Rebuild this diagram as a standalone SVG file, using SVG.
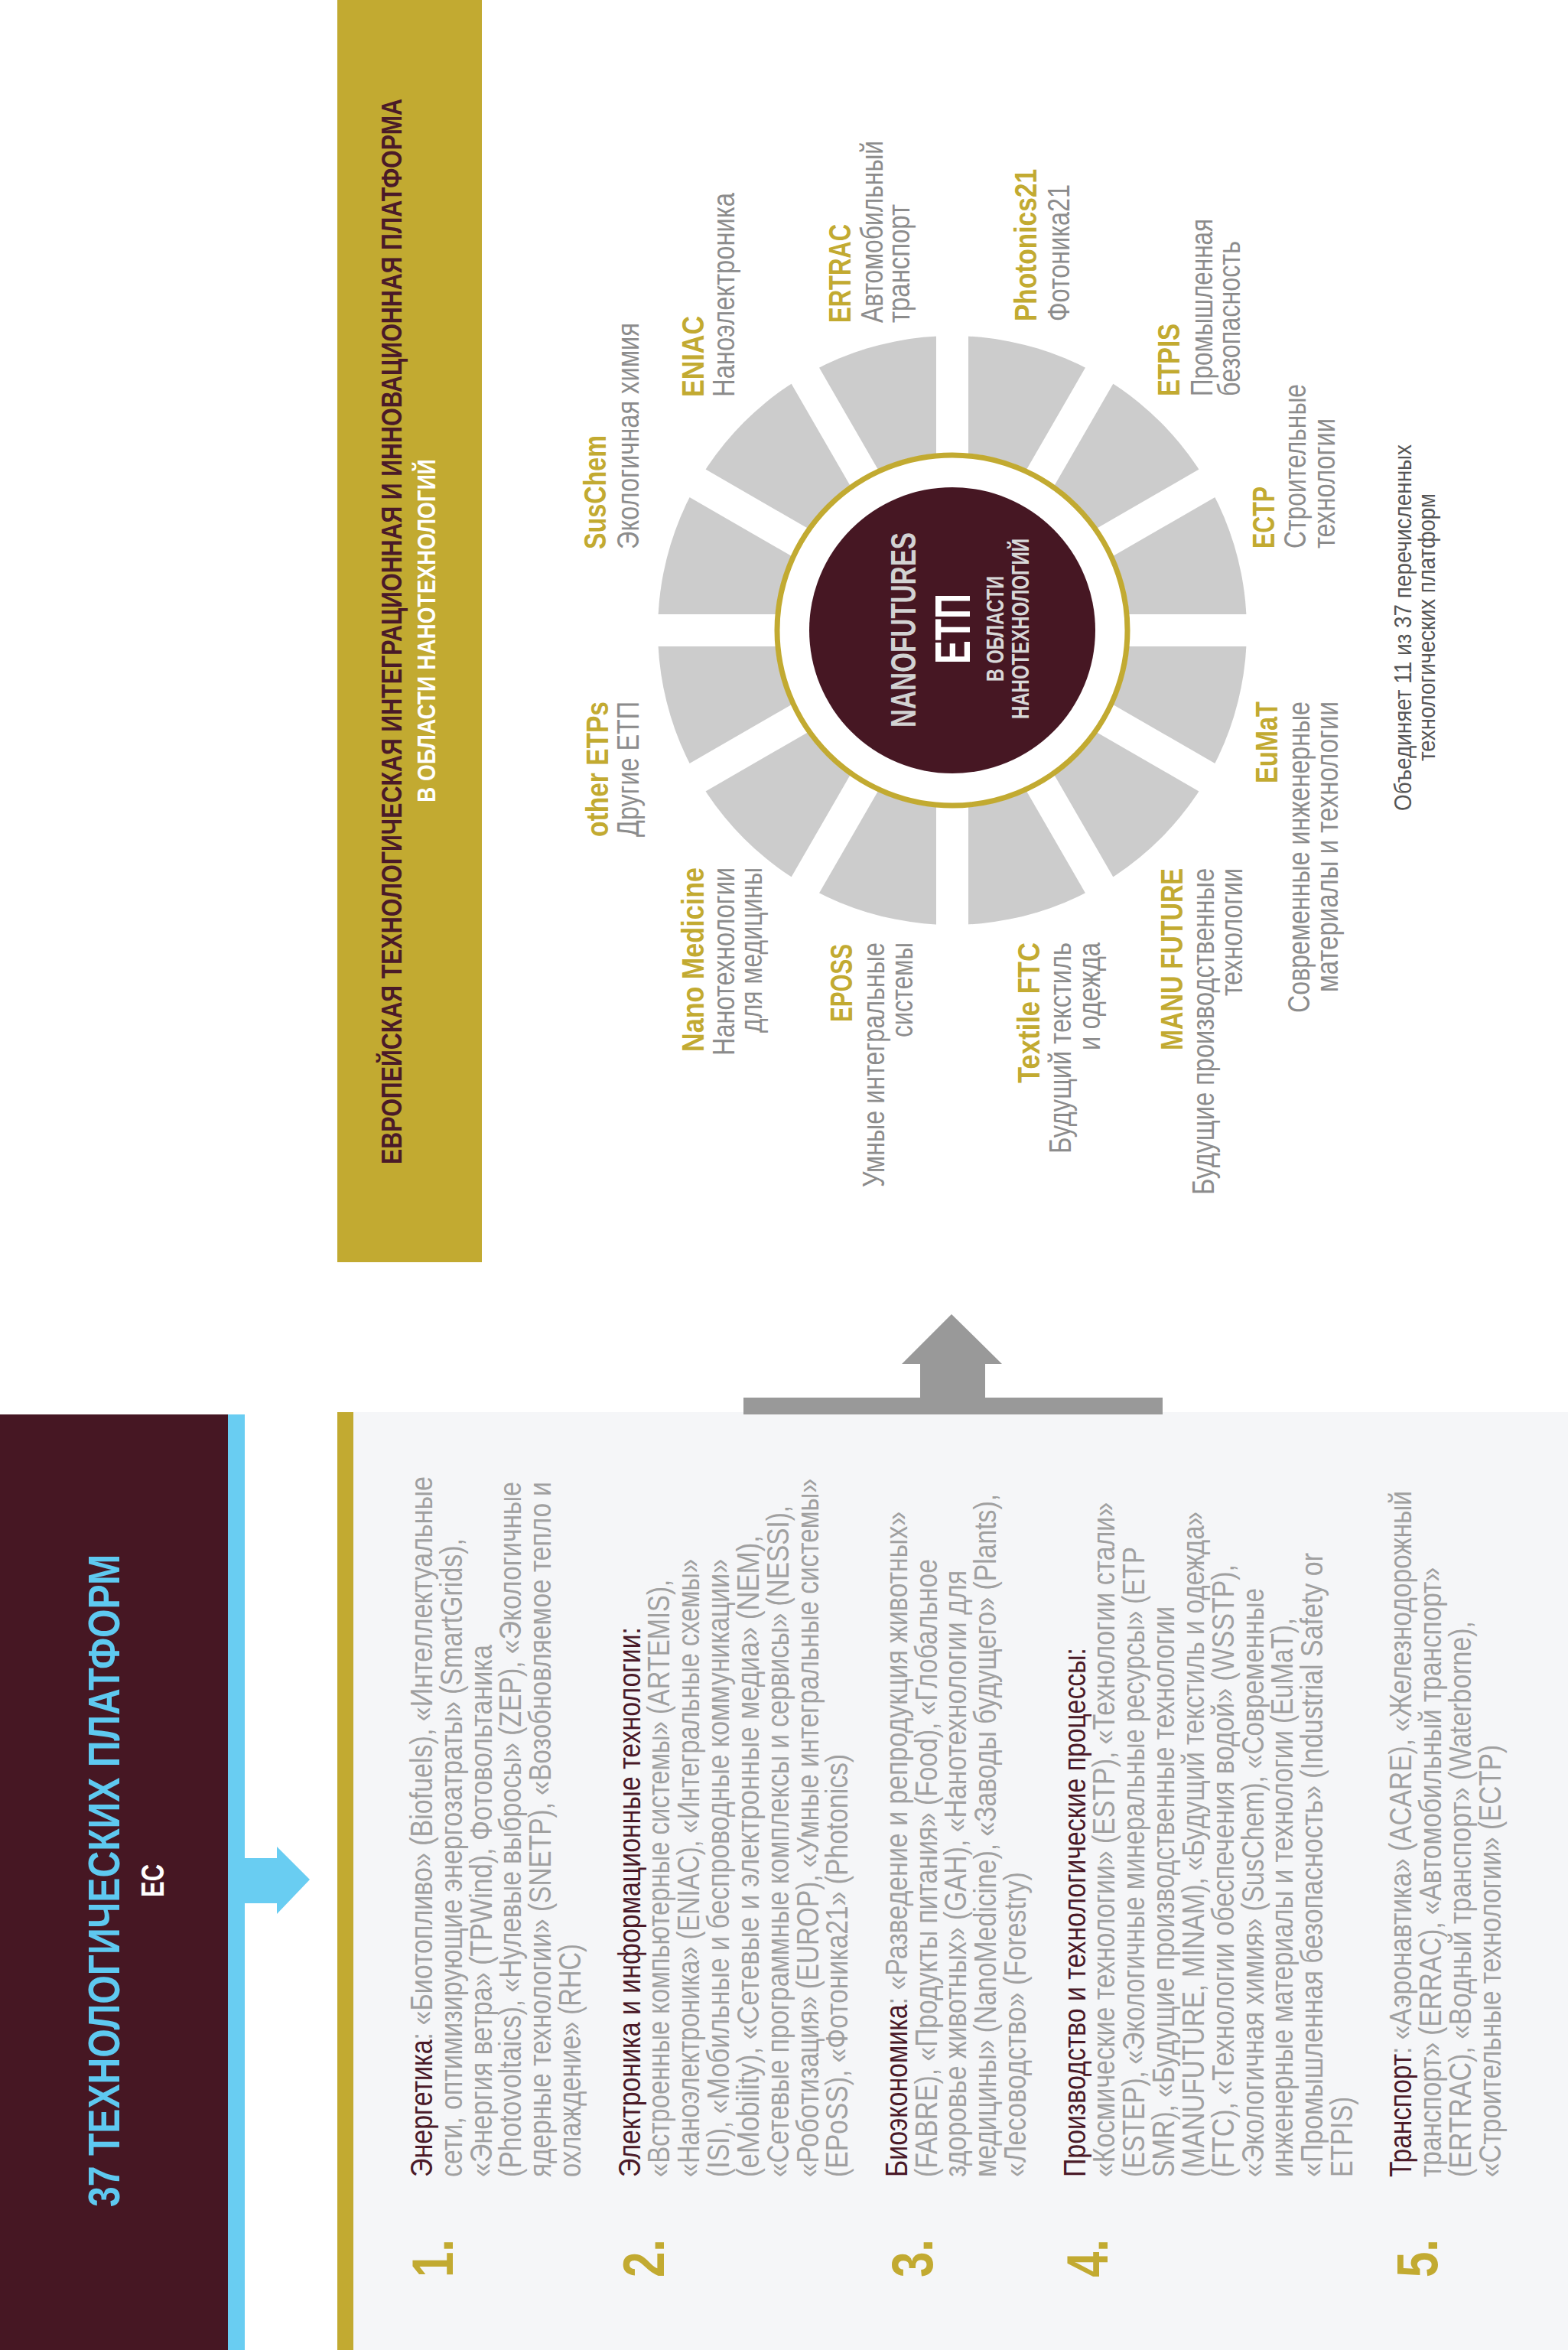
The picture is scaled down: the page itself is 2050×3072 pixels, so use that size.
<svg xmlns="http://www.w3.org/2000/svg" width="2050" height="3072" viewBox="0 0 2050 3072">
<defs>
<style>
text{font-family:"Liberation Sans",Arial,"Noto Sans CJK SC",sans-serif;}
.lst{font-size:40px;fill:#a0a0a0;}
.hd{fill:#4a1a28;}
.num{font-size:76px;font-weight:bold;fill:#c2aa31;}
.gl{font-size:40px;font-weight:bold;fill:#c2aa31;}
.gy{font-size:40px;fill:#8c8c8c;}
.note{font-size:32px;fill:#555555;}
.hdr{font-size:37px;font-weight:bold;fill:#4a1a28;}
.sub{font-size:34px;font-weight:bold;fill:#ffffff;}
.ttl{font-size:57px;font-weight:bold;fill:#5ec9f0;}
.ec{font-size:43px;font-weight:bold;fill:#ffffff;}
.hub1{font-size:47px;font-weight:bold;fill:#d2d2d2;}
.hub2{font-size:64px;font-weight:bold;fill:#ffffff;}
.hub3{font-size:31px;font-weight:bold;fill:#d8d8d8;}
.gap{stroke:#ffffff;stroke-width:42;}
</style>
</defs>
<rect width="2050" height="3072" fill="#ffffff"/>

<!-- Header band -->
<g id="header">
<rect x="441" y="0" width="189" height="1650" fill="#c2aa31"/>
<text class="hdr" transform="translate(525 1522) rotate(-90)" textLength="1393" lengthAdjust="spacingAndGlyphs">ЕВРОПЕЙСКАЯ ТЕХНОЛОГИЧЕСКАЯ ИНТЕГРАЦИОННАЯ И ИННОВАЦИОННАЯ ПЛАТФОРМА</text>
<text class="sub" transform="translate(569 1049) rotate(-90)" textLength="449" lengthAdjust="spacingAndGlyphs">В ОБЛАСТИ НАНОТЕХНОЛОГИЙ</text>
</g>

<!-- Hub wheel -->
<g id="hub">
<circle cx="1245" cy="824" r="385" fill="#cccccc"/>
<line class="gap" x1="1245" y1="424" x2="1245" y2="1224"/>
<line class="gap" x1="845" y1="824" x2="1645" y2="824"/>
<line class="gap" transform="rotate(30 1245 824)" x1="845" y1="824" x2="1645" y2="824"/>
<line class="gap" transform="rotate(60 1245 824)" x1="845" y1="824" x2="1645" y2="824"/>
<line class="gap" transform="rotate(120 1245 824)" x1="845" y1="824" x2="1645" y2="824"/>
<line class="gap" transform="rotate(150 1245 824)" x1="845" y1="824" x2="1645" y2="824"/>
<circle cx="1245" cy="824" r="232" fill="#ffffff"/>
<circle cx="1245" cy="824" r="229" fill="none" stroke="#c2aa31" stroke-width="7"/>
<circle cx="1245" cy="824" r="187" fill="#461723"/>
<text class="hub1" transform="translate(1197 951) rotate(-90)" textLength="255" lengthAdjust="spacingAndGlyphs">NANOFUTURES</text>
<text class="hub2" transform="translate(1268 868) rotate(-90)" textLength="92" lengthAdjust="spacingAndGlyphs">ЕТП</text>
<text class="hub3" transform="translate(1312 891) rotate(-90)" textLength="138" lengthAdjust="spacingAndGlyphs">В ОБЛАСТИ</text>
<text class="hub3" transform="translate(1345 940) rotate(-90)" textLength="236" lengthAdjust="spacingAndGlyphs">НАНОТЕХНОЛОГИЙ</text>
</g>

<!-- Labels around hub -->
<g id="lbl-suschem">
<text class="gl" transform="translate(792 718) rotate(-90)" textLength="149" lengthAdjust="spacingAndGlyphs">SusChem</text>
<text class="gy" transform="translate(835 718) rotate(-90)" textLength="296" lengthAdjust="spacingAndGlyphs">Экологичная химия</text>
</g>
<g id="lbl-eniac">
<text class="gl" transform="translate(920 519) rotate(-90)" textLength="106" lengthAdjust="spacingAndGlyphs">ENIAC</text>
<text class="gy" transform="translate(960 519) rotate(-90)" textLength="267" lengthAdjust="spacingAndGlyphs">Наноэлектроника</text>
</g>
<g id="lbl-ertrac">
<text class="gl" transform="translate(1112 422) rotate(-90)" textLength="129" lengthAdjust="spacingAndGlyphs">ERTRAC</text>
<text class="gy" transform="translate(1154 422) rotate(-90)" textLength="238" lengthAdjust="spacingAndGlyphs">Автомобильный</text>
<text class="gy" transform="translate(1189 422) rotate(-90)" textLength="155" lengthAdjust="spacingAndGlyphs">транспорт</text>
</g>
<g id="lbl-photonics21">
<text class="gl" transform="translate(1355 420) rotate(-90)" textLength="199" lengthAdjust="spacingAndGlyphs">Photonics21</text>
<text class="gy" transform="translate(1398 420) rotate(-90)" textLength="179" lengthAdjust="spacingAndGlyphs">Фотоника21</text>
</g>
<g id="lbl-etpis">
<text class="gl" transform="translate(1542 518) rotate(-90)" textLength="95" lengthAdjust="spacingAndGlyphs">ETPIS</text>
<text class="gy" transform="translate(1585 518) rotate(-90)" textLength="232" lengthAdjust="spacingAndGlyphs">Промышленная</text>
<text class="gy" transform="translate(1621 518) rotate(-90)" textLength="203" lengthAdjust="spacingAndGlyphs">безопасность</text>
</g>
<g id="lbl-ectp">
<text class="gl" transform="translate(1666 717) rotate(-90)" textLength="81" lengthAdjust="spacingAndGlyphs">ECTP</text>
<text class="gy" transform="translate(1707 717) rotate(-90)" textLength="215" lengthAdjust="spacingAndGlyphs">Строительные</text>
<text class="gy" transform="translate(1745 717) rotate(-90)" textLength="170" lengthAdjust="spacingAndGlyphs">технологии</text>
</g>
<g id="lbl-other">
<text class="gl" transform="translate(795 1094) rotate(-90)" textLength="177" lengthAdjust="spacingAndGlyphs">other ETPs</text>
<text class="gy" transform="translate(835 1094) rotate(-90)" textLength="177" lengthAdjust="spacingAndGlyphs">Другие ЕТП</text>
</g>
<g id="lbl-nanomedicine">
<text class="gl" transform="translate(920 1375) rotate(-90)" textLength="241" lengthAdjust="spacingAndGlyphs">Nano Medicine</text>
<text class="gy" transform="translate(960 1380) rotate(-90)" textLength="246" lengthAdjust="spacingAndGlyphs">Нанотехнологии</text>
<text class="gy" transform="translate(996 1350) rotate(-90)" textLength="216" lengthAdjust="spacingAndGlyphs">для медицины</text>
</g>
<g id="lbl-eposs">
<text class="gl" transform="translate(1114 1336) rotate(-90)" textLength="102" lengthAdjust="spacingAndGlyphs">EPOSS</text>
<text class="gy" transform="translate(1156 1552) rotate(-90)" textLength="320" lengthAdjust="spacingAndGlyphs">Умные интегральные</text>
<text class="gy" transform="translate(1193 1356) rotate(-90)" textLength="124" lengthAdjust="spacingAndGlyphs">системы</text>
</g>
<g id="lbl-textile">
<text class="gl" transform="translate(1359 1416) rotate(-90)" textLength="184" lengthAdjust="spacingAndGlyphs">Textile FTC</text>
<text class="gy" transform="translate(1400 1508) rotate(-90)" textLength="276" lengthAdjust="spacingAndGlyphs">Будущий текстиль</text>
<text class="gy" transform="translate(1438 1373) rotate(-90)" textLength="141" lengthAdjust="spacingAndGlyphs">и одежда</text>
</g>
<g id="lbl-manufuture">
<text class="gl" transform="translate(1546 1373) rotate(-90)" textLength="238" lengthAdjust="spacingAndGlyphs">MANU FUTURE</text>
<text class="gy" transform="translate(1587 1562) rotate(-90)" textLength="427" lengthAdjust="spacingAndGlyphs">Будущие производственные</text>
<text class="gy" transform="translate(1624 1302) rotate(-90)" textLength="167" lengthAdjust="spacingAndGlyphs">технологии</text>
</g>
<g id="lbl-eumat">
<text class="gl" transform="translate(1670 1024) rotate(-90)" textLength="107" lengthAdjust="spacingAndGlyphs">EuMaT</text>
<text class="gy" transform="translate(1712 1324) rotate(-90)" textLength="407" lengthAdjust="spacingAndGlyphs">Современные инженерные</text>
<text class="gy" transform="translate(1749 1297) rotate(-90)" textLength="380" lengthAdjust="spacingAndGlyphs">материалы и технологии</text>
</g>
<g id="note">
<text class="note" transform="translate(1845 1060) rotate(-90)" textLength="479" lengthAdjust="spacingAndGlyphs">Объединяет 11 из 37 перечисленных</text>
<text class="note" transform="translate(1876 995) rotate(-90)" textLength="350" lengthAdjust="spacingAndGlyphs">технологических платформ</text>
</g>

<!-- Title panel -->
<g id="title">
<rect x="0" y="1849" width="298" height="1223" fill="#461723"/>
<rect x="298" y="1849" width="22" height="1223" fill="#69cdf2"/>
<text class="ttl" transform="translate(156 2885) rotate(-90)" textLength="853" lengthAdjust="spacingAndGlyphs">37 ТЕХНОЛОГИЧЕСКИХ ПЛАТФОРМ</text>
<text class="ec" transform="translate(214 2480) rotate(-90)" textLength="43" lengthAdjust="spacingAndGlyphs">ЕС</text>
</g>

<!-- List panel -->
<g id="list">
<rect x="441" y="1846" width="21" height="1226" fill="#c2aa31"/>
<rect x="462" y="1846" width="1588" height="1226" fill="#f5f6f8"/>
<text class="num" transform="translate(592 2977) rotate(-90)" textLength="50" lengthAdjust="spacingAndGlyphs">1.</text>
<text class="num" transform="translate(868 2977) rotate(-90)" textLength="50" lengthAdjust="spacingAndGlyphs">2.</text>
<text class="num" transform="translate(1219 2977) rotate(-90)" textLength="50" lengthAdjust="spacingAndGlyphs">3.</text>
<text class="num" transform="translate(1448 2977) rotate(-90)" textLength="50" lengthAdjust="spacingAndGlyphs">4.</text>
<text class="num" transform="translate(1879 2977) rotate(-90)" textLength="50" lengthAdjust="spacingAndGlyphs">5.</text>

<text class="lst" transform="translate(565 2846) rotate(-90)" textLength="916" lengthAdjust="spacingAndGlyphs"><tspan class="hd">Энергетика</tspan>: «Биотопливо» (Biofuels), «Интеллектуальные</text>
<text class="lst" transform="translate(604 2846) rotate(-90)" textLength="835" lengthAdjust="spacingAndGlyphs">сети, оптимизирующие энергозатраты» (SmartGrids),</text>
<text class="lst" transform="translate(643 2846) rotate(-90)" textLength="696" lengthAdjust="spacingAndGlyphs">«Энергия ветра» (TPWind), Фотовольтаника</text>
<text class="lst" transform="translate(681 2846) rotate(-90)" textLength="909" lengthAdjust="spacingAndGlyphs">(Photovoltaics), «Нулевые выбросы» (ZEP), «Экологичные</text>
<text class="lst" transform="translate(720 2846) rotate(-90)" textLength="909" lengthAdjust="spacingAndGlyphs">ядерные технологии» (SNETP), «Возобновляемое тепло и</text>
<text class="lst" transform="translate(759 2846) rotate(-90)" textLength="305" lengthAdjust="spacingAndGlyphs">охлаждение» (RHC)</text>

<text class="lst" transform="translate(837 2846) rotate(-90)" textLength="719" lengthAdjust="spacingAndGlyphs"><tspan class="hd">Электроника и информационные технологии:</tspan></text>
<text class="lst" transform="translate(875 2846) rotate(-90)" textLength="781" lengthAdjust="spacingAndGlyphs">«Встроенные компьютерные системы» (ARTEMIS),</text>
<text class="lst" transform="translate(914 2846) rotate(-90)" textLength="808" lengthAdjust="spacingAndGlyphs">«Наноэлектроника» (ENIAC), «Интегральные схемы»</text>
<text class="lst" transform="translate(953 2846) rotate(-90)" textLength="808" lengthAdjust="spacingAndGlyphs">(ISI), «Мобильные и беспроводные коммуникации»</text>
<text class="lst" transform="translate(992 2846) rotate(-90)" textLength="839" lengthAdjust="spacingAndGlyphs">(eMobility), «Сетевые и электронные медиа» (NEM),</text>
<text class="lst" transform="translate(1031 2846) rotate(-90)" textLength="878" lengthAdjust="spacingAndGlyphs">«Сетевые программные комплексы и сервисы» (NESSI),</text>
<text class="lst" transform="translate(1070 2846) rotate(-90)" textLength="913" lengthAdjust="spacingAndGlyphs">«Роботизация» (EUROP), «Умные интегральные системы»</text>
<text class="lst" transform="translate(1108 2846) rotate(-90)" textLength="553" lengthAdjust="spacingAndGlyphs">(EPoSS), «Фотоника21» (Photonics)</text>

<text class="lst" transform="translate(1186 2846) rotate(-90)" textLength="870" lengthAdjust="spacingAndGlyphs"><tspan class="hd">Биоэкономика</tspan>: «Разведение и репродукция животных»</text>
<text class="lst" transform="translate(1225 2846) rotate(-90)" textLength="808" lengthAdjust="spacingAndGlyphs">(FABRE), «Продукты питания» (Food), «Глобальное</text>
<text class="lst" transform="translate(1263 2846) rotate(-90)" textLength="793" lengthAdjust="spacingAndGlyphs">здоровье животных» (GAH), «Нанотехнологии для</text>
<text class="lst" transform="translate(1302 2846) rotate(-90)" textLength="893" lengthAdjust="spacingAndGlyphs">медицины» (NanoMedicine), «Заводы будущего» (Plants),</text>
<text class="lst" transform="translate(1341 2846) rotate(-90)" textLength="399" lengthAdjust="spacingAndGlyphs">«Лесоводство» (Forestry)</text>

<text class="lst" transform="translate(1419 2846) rotate(-90)" textLength="692" lengthAdjust="spacingAndGlyphs"><tspan class="hd">Производство и технологические процессы:</tspan></text>
<text class="lst" transform="translate(1457 2846) rotate(-90)" textLength="882" lengthAdjust="spacingAndGlyphs">«Космические технологии» (ESTP), «Технологии стали»</text>
<text class="lst" transform="translate(1496 2846) rotate(-90)" textLength="824" lengthAdjust="spacingAndGlyphs">(ESTEP), «Экологичные минеральные ресурсы» (ETP</text>
<text class="lst" transform="translate(1535 2846) rotate(-90)" textLength="746" lengthAdjust="spacingAndGlyphs">SMR), «Будущие производственные технологии</text>
<text class="lst" transform="translate(1574 2846) rotate(-90)" textLength="870" lengthAdjust="spacingAndGlyphs">(MANUFUTURE, MINAM), «Будущий текстиль и одежда»</text>
<text class="lst" transform="translate(1613 2846) rotate(-90)" textLength="801" lengthAdjust="spacingAndGlyphs">(FTC), «Технологии обеспечения водой» (WSSTP),</text>
<text class="lst" transform="translate(1652 2846) rotate(-90)" textLength="770" lengthAdjust="spacingAndGlyphs">«Экологичная химия» (SusChem), «Современные</text>
<text class="lst" transform="translate(1690 2846) rotate(-90)" textLength="731" lengthAdjust="spacingAndGlyphs">инженерные материалы и технологии (EuMaT),</text>
<text class="lst" transform="translate(1729 2846) rotate(-90)" textLength="816" lengthAdjust="spacingAndGlyphs">«Промышленная безопасность» (Industrial Safety or</text>
<text class="lst" transform="translate(1768 2846) rotate(-90)" textLength="105" lengthAdjust="spacingAndGlyphs">ETPIS)</text>

<text class="lst" transform="translate(1845 2846) rotate(-90)" textLength="897" lengthAdjust="spacingAndGlyphs"><tspan class="hd">Транспорт</tspan>: «Аэронавтика» (ACARE), «Железнодорожный</text>
<text class="lst" transform="translate(1884 2846) rotate(-90)" textLength="797" lengthAdjust="spacingAndGlyphs">транспорт» (ERRAC), «Автомобильный транспорт»</text>
<text class="lst" transform="translate(1923 2846) rotate(-90)" textLength="727" lengthAdjust="spacingAndGlyphs">(ERTRAC), «Водный транспорт» (Waterborne),</text>
<text class="lst" transform="translate(1962 2846) rotate(-90)" textLength="565" lengthAdjust="spacingAndGlyphs">«Строительные технологии» (ECTP)</text>
</g>

<!-- Connectors -->
<g id="connectors">
<polygon fill="#69cdf2" points="320,2429 362,2429 362,2414 405,2457 362,2502 362,2488 320,2488"/>
<polygon fill="#999999" points="972,1827 1203,1827 1203,1783 1179,1783 1244,1718 1310,1783 1288,1783 1288,1827 1520,1827 1520,1849 972,1849"/>
</g>
</svg>
